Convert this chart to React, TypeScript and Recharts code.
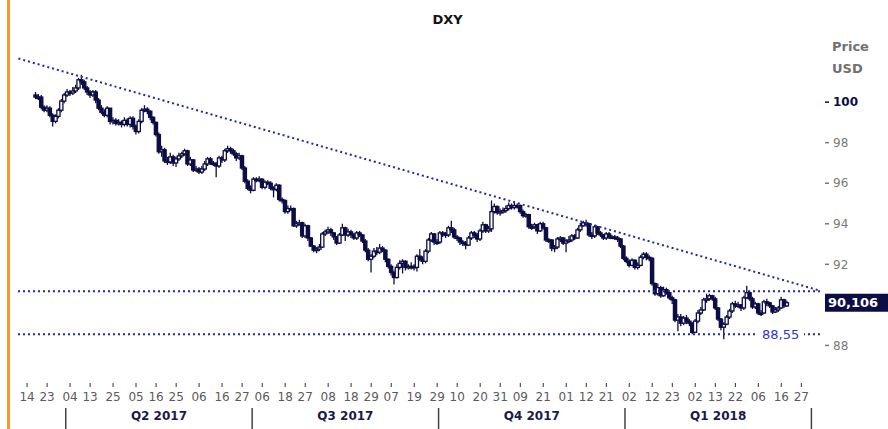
import React from 'react';
import { ComposedChart, Bar, XAxis, YAxis, ReferenceLine } from 'recharts';

// DXY daily candles, Mar 17 2017 – Mar 20 2018 (one value per weekday).
// Open of each candle = previous close (first open given separately).
const firstDate = '2017-03-17';
const firstOpen = 100.35;

const closes = [
  100.25, 100.25, 99.75, 99.6, 99.7, 99.35, 99.05, 99.3, 99.6, 100.05, 100.35,
  100.5, 100.45, 100.55, 100.7, 101.1, 101.0, 100.7, 100.5, 100.35, 100.5,
  100.1, 99.7, 99.5, 99.35, 99.7, 99.05, 99.1, 98.95, 99.0, 98.9,
  99.1, 98.9, 99.2, 98.8, 98.55, 99.05, 99.6, 99.65, 99.55, 99.25,
  99.0, 98.4, 97.55, 97.65, 97.1, 97.05, 97.3, 97.0, 97.2, 97.35,
  97.45, 97.6, 96.95, 97.15, 96.65, 96.7, 96.55, 96.7, 96.95, 97.2,
  97.0, 96.95, 96.85, 97.25, 97.15, 97.6, 97.7, 97.6, 97.45, 97.25,
  97.35, 96.75, 96.1, 95.75, 95.65, 96.2, 96.15, 96.2, 95.8, 96.05,
  96.0, 95.75, 95.7, 95.9, 95.2, 95.15, 94.6, 94.75, 94.75, 93.9,
  94.0, 94.05, 93.4, 93.9, 93.3, 92.9, 92.7, 92.75, 92.85, 93.5,
  93.6, 93.7, 93.55, 93.35, 93.05, 93.45, 93.8, 93.45, 93.6, 93.45,
  93.3, 93.55, 93.45, 93.15, 92.7, 92.25, 92.4, 92.65, 92.6, 92.8,
  92.7, 92.25, 91.9, 91.6, 91.35, 91.85, 92.05, 92.15, 91.85, 91.9,
  91.9, 91.85, 92.4, 92.25, 92.15, 92.65, 93.2, 93.5, 93.1, 93.1,
  93.55, 93.5, 93.45, 93.8, 93.7, 93.35, 93.3, 93.1, 93.05, 92.95,
  93.3, 93.55, 93.45, 93.25, 93.65, 93.95, 93.65, 93.75, 94.6, 94.85,
  94.55, 94.6, 94.65, 94.75, 94.9, 94.8, 94.9, 94.9, 94.6, 94.4,
  94.45, 93.85, 93.85, 93.95, 93.65, 94.0, 93.8, 93.2, 93.2, 92.8,
  92.85, 93.25, 93.3, 93.05, 93.15, 93.2, 93.4, 93.3, 93.7, 93.9,
  94.05, 94.0, 93.45, 93.4, 93.85, 93.55, 93.45, 93.3, 93.5, 93.35,
  93.35, 93.3, 93.25, 92.9, 92.3, 92.15, 91.95, 92.2, 91.85, 91.95,
  92.35, 92.5, 92.35, 92.3, 91.05, 90.55, 90.85, 90.45, 90.75, 90.6,
  90.35, 90.25, 89.25, 89.4, 89.1, 89.35, 89.2, 89.1, 88.65, 89.2,
  89.6, 89.75, 90.25, 90.3, 90.45, 90.3, 89.85, 89.3, 88.9, 89.05,
  89.4, 89.7, 90.05, 89.95, 90.0, 89.85, 90.35, 90.6, 90.3, 89.9,
  90.05, 89.6, 89.6, 90.15, 90.1, 89.95, 89.65, 89.75, 89.85, 90.25,
  89.95, 90.106,
];

const highs = [
  100.5, 100.4, 100.35, 99.85, 99.85, 99.8, 99.45, 99.4, 99.7, 100.15, 100.45,
  100.65, 100.6, 100.75, 100.85, 101.2, 101.35, 101.1, 100.8, 100.6, 100.6,
  100.6, 100.2, 99.85, 99.65, 99.8, 99.3, 99.25, 99.2, 99.15, 99.1,
  99.25, 99.2, 99.3, 99.3, 98.9, 99.15, 99.7, 99.85, 99.75, 99.6,
  99.3, 99.05, 98.5, 97.85, 97.75, 97.3, 97.5, 97.4, 97.3, 97.5,
  97.55, 97.7, 97.65, 97.3, 97.2, 96.85, 96.8, 96.85, 97.1, 97.3,
  97.3, 97.1, 97.05, 97.35, 97.35, 97.7, 97.85, 97.8, 97.7, 97.55,
  97.5, 97.4, 96.85, 96.2, 95.9, 96.3, 96.3, 96.35, 96.25, 96.15,
  96.15, 96.1, 95.85, 96.0, 95.95, 95.3, 95.2, 94.9, 94.9, 94.8,
  94.15, 94.2, 94.1, 94.0, 93.95, 93.35, 92.95, 92.85, 93.0, 93.6,
  93.7, 93.85, 93.8, 93.6, 93.4, 93.55, 94.0, 93.85, 93.75, 93.7,
  93.55, 93.65, 93.65, 93.5, 93.25, 92.8, 92.5, 92.8, 92.85, 93.0,
  92.9, 92.75, 92.3, 92.0, 91.7, 92.0, 92.2, 92.25, 92.2, 92.0,
  92.1, 92.0, 92.5, 92.75, 92.4, 92.75, 93.3, 93.6, 93.55, 93.25,
  93.65, 93.65, 93.6, 93.9, 94.15, 93.8, 93.45, 93.35, 93.2, 93.15,
  93.4, 93.65, 93.65, 93.55, 93.75, 94.1, 94.0, 93.9, 95.15, 95.0,
  94.9, 94.75, 94.8, 94.9, 95.05, 95.0, 95.1, 95.0, 94.95, 94.7,
  94.55, 94.5, 94.0, 94.05, 94.0, 94.1, 94.1, 93.85, 93.3, 93.25,
  92.95, 93.35, 93.4, 93.35, 93.25, 93.4, 93.5, 93.5, 93.8, 94.05,
  94.15, 94.2, 94.05, 93.6, 93.95, 93.9, 93.65, 93.5, 93.6, 93.6,
  93.45, 93.45, 93.4, 93.3, 92.95, 92.4, 92.25, 92.3, 92.25, 92.1,
  92.45, 92.6, 92.6, 92.45, 92.35, 91.1, 91.05, 90.95, 90.9, 90.85,
  90.7, 90.45, 90.3, 89.55, 89.55, 89.45, 89.5, 89.3, 89.15, 89.3,
  89.75, 89.9, 90.35, 90.55, 90.55, 90.5, 90.4, 89.9, 89.35, 89.15,
  89.5, 89.8, 90.15, 90.2, 90.15, 90.05, 90.45, 90.95, 90.7, 90.4,
  90.15, 90.1, 89.75, 90.25, 90.3, 90.15, 90.0, 89.9, 89.95, 90.4,
  90.3, 90.2,
];

const lows = [
  100.15, 100.1, 99.65, 99.5, 99.5, 99.25, 98.8, 98.95, 99.2, 99.5, 99.95,
  100.25, 100.3, 100.35, 100.45, 100.6, 100.85, 100.6, 100.35, 100.2, 100.25,
  99.95, 99.6, 99.4, 99.25, 99.25, 98.9, 98.9, 98.85, 98.85, 98.75,
  98.8, 98.8, 98.75, 98.65, 98.4, 98.45, 98.95, 99.5, 99.4, 99.1,
  98.9, 98.3, 97.45, 97.3, 97.0, 96.9, 96.95, 96.85, 96.8, 97.1,
  97.25, 97.35, 96.85, 96.85, 96.55, 96.55, 96.45, 96.45, 96.6, 96.85,
  96.9, 96.85, 96.3, 96.75, 97.0, 97.05, 97.5, 97.45, 97.35, 97.1,
  97.15, 96.65, 96.0, 95.65, 95.5, 95.6, 96.05, 96.05, 95.7, 95.7,
  95.9, 95.65, 95.3, 95.6, 95.1, 95.0, 94.5, 94.5, 94.65, 93.85,
  93.8, 93.9, 93.3, 93.3, 93.15, 92.85, 92.6, 92.55, 92.65, 92.8,
  93.4, 93.5, 93.4, 93.2, 92.95, 93.0, 93.4, 93.15, 93.35, 93.3,
  93.2, 93.2, 93.35, 93.05, 92.6, 92.15, 91.6, 92.3, 92.45, 92.5,
  92.6, 92.1, 91.8, 91.45, 91.0, 91.3, 91.75, 91.55, 91.7, 91.75,
  91.75, 91.7, 91.65, 92.15, 92.0, 92.05, 92.55, 93.1, 92.95, 92.95,
  93.0, 93.35, 93.3, 93.35, 93.55, 93.25, 93.15, 92.95, 92.9, 92.75,
  92.9, 93.2, 93.3, 93.1, 93.15, 93.55, 93.55, 93.55, 93.6, 94.5,
  94.45, 94.4, 94.5, 94.55, 94.65, 94.7, 94.7, 94.75, 94.5, 94.3,
  94.3, 93.75, 93.7, 93.75, 93.5, 93.6, 93.7, 93.1, 93.05, 92.65,
  92.6, 92.75, 93.1, 92.95, 92.6, 93.05, 93.1, 93.2, 93.25, 93.6,
  93.85, 93.85, 93.35, 93.25, 93.3, 93.45, 93.35, 93.2, 93.2, 93.25,
  93.25, 93.2, 93.1, 92.8, 92.2, 92.05, 91.85, 91.9, 91.75, 91.75,
  91.9, 92.25, 92.2, 92.15, 90.95, 90.45, 90.45, 90.35, 90.4, 90.5,
  90.25, 90.05, 89.15, 88.7, 88.95, 89.0, 89.05, 88.95, 88.55, 88.6,
  89.1, 89.5, 89.7, 90.1, 90.2, 90.2, 89.75, 89.2, 88.75, 88.3,
  89.0, 89.3, 89.6, 89.85, 89.85, 89.7, 89.75, 90.3, 90.2, 89.8,
  89.8, 89.5, 89.45, 89.55, 89.95, 89.85, 89.55, 89.6, 89.65, 89.8,
  89.85, 89.9,
];

// axis
const axisStart = '2017-03-09';
const axisEnd = '2018-04-04';
const tickDates = [
  '2017-03-14', '2017-03-23', '2017-04-04', '2017-04-13', '2017-04-25', '2017-05-05',
  '2017-05-16', '2017-05-25', '2017-06-06', '2017-06-16', '2017-06-27', '2017-07-06',
  '2017-07-18', '2017-07-27', '2017-08-08', '2017-08-18', '2017-08-29', '2017-09-07',
  '2017-09-19', '2017-09-29', '2017-10-10', '2017-10-20', '2017-10-31', '2017-11-09',
  '2017-11-21', '2017-12-01', '2017-12-12', '2017-12-21', '2018-01-02', '2018-01-12',
  '2018-01-23', '2018-02-02', '2018-02-13', '2018-02-22', '2018-03-06', '2018-03-16',
  '2018-03-27',
];
const quarterEnds = ['2017-03-31', '2017-06-30', '2017-09-29', '2017-12-29', '2018-03-30'];
const quarterLabels = ['Q2 2017', 'Q3 2017', 'Q4 2017', 'Q1 2018'];
const yTicks = [88, 92, 94, 96, 98, 100];

// levels
const lastValue = 90.106;
const supportLevel = 88.55;
const resistanceLevel = 90.67;
const trendFrom = { date: '2017-03-09', value: 102.15 };
const trendTo = { date: '2018-04-04', value: 90.72 };

const NAVY = '#0d0d45';
const BLUE = '#2626a8';
const W = 888;
const H = 429;
const Y_AXIS_W = 68;
const M = { top: 21, right: 0, bottom: 0, left: 17 };
const X_AXIS_H = 43;
const FONT = '"DejaVu Sans", Verdana, sans-serif';

const DAY = 86400000;
const parse = (s: string) => {
  const [y, m, d] = s.split('-').map(Number);
  return Date.UTC(y, m - 1, d);
};
const ORIGIN = parse('2017-03-14');
const isWeekday = (t: number) => {
  const w = new Date(t).getUTCDay();
  return w !== 0 && w !== 6;
};
// trading-day index counted from Mar 14 2017
const dayIndex = (s: string) => {
  const t = parse(s);
  let n = 0;
  if (t >= ORIGIN) {
    for (let d = ORIGIN + DAY; d <= t; d += DAY) if (isWeekday(d)) n++;
    return n;
  }
  for (let d = ORIGIN; d > t; d -= DAY) if (isWeekday(d)) n--;
  return n;
};

const i0 = dayIndex(firstDate);
const iStart = dayIndex(axisStart);
const iEnd = dayIndex(axisEnd);

const rows: any[] = [];
for (let i = iStart; i <= iEnd; i++) {
  const k = i - i0;
  if (k >= 0 && k < closes.length) {
    const o = k === 0 ? firstOpen : closes[k - 1];
    const c = closes[k];
    const h = Math.max(highs[k], o, c);
    const l = Math.min(lows[k], o, c);
    rows.push({ i, o, h, l, c, range: [l, h] });
  } else {
    rows.push({ i });
  }
}

const band = (W - M.left - Y_AXIS_W) / rows.length;
const tickLabels = new Map(tickDates.map((s) => [dayIndex(s), s.slice(8)]));
const qEnds = quarterEnds.map(dayIndex);
const qMids = new Map<number, string>();
quarterLabels.forEach((lbl, k) => {
  qMids.set(Math.round((qEnds[k] + qEnds[k + 1]) / 2 + 0.5), lbl);
});

const Candle = (props: any) => {
  const { x, y, width, height, payload } = props;
  if (!payload || payload.h == null) return null;
  const top = Math.min(y, y + height);
  const hh = Math.abs(height);
  const ratio = hh / (payload.h - payload.l || 1);
  const py = (v: number) => top + (payload.h - v) * ratio;
  const cx = x + width / 2;
  const up = payload.c > payload.o;
  const bTop = py(Math.max(payload.o, payload.c));
  const bBot = py(Math.min(payload.o, payload.c));
  return (
    <g>
      <line x1={cx} x2={cx} y1={top} y2={top + hh} stroke={NAVY} strokeWidth={1.3} />
      <rect
        x={cx - 1.6}
        y={bTop}
        width={3.2}
        height={Math.max(bBot - bTop, 1.5)}
        fill={up ? '#ffffff' : NAVY}
        stroke={NAVY}
        strokeWidth={1.3}
      />
    </g>
  );
};

const XTick = (props: any) => {
  const { x, y, payload } = props;
  const i = payload.value;
  const lbl = tickLabels.get(i);
  const q = qMids.get(i);
  return (
    <g>
      {lbl && <line x1={x} x2={x} y1={y - 3} y2={y + 1} stroke="#333" strokeWidth={1} />}
      {lbl && (
        <text x={x} y={y + 15} textAnchor="middle" fontSize={12} fontFamily={FONT} fill="#5a5a5a">
          {lbl}
        </text>
      )}
      {qEnds.includes(i) && (
        <line x1={x + band / 2} x2={x + band / 2} y1={y + 22} y2={y + 43} stroke="#444" strokeWidth={1.5} />
      )}
      {q && (
        <text x={x} y={y + 34} textAnchor="middle" fontSize={12} fontWeight="bold" fontFamily={FONT} fill="#1a1a4a">
          {q}
        </text>
      )}
    </g>
  );
};

const YTick = (props: any) => {
  const { x, y, payload } = props;
  const main = payload.value === 100;
  return (
    <g>
      <line x1={x + 5} x2={x + 9} y1={y} y2={y} stroke={main ? NAVY : '#777'} strokeWidth={1.5} />
      <text
        x={x + 13}
        y={y}
        dy="0.35em"
        fontSize={12}
        fontFamily={FONT}
        fontWeight={main ? 'bold' : 'normal'}
        fill={main ? NAVY : '#7a7a7a'}
      >
        {payload.value}
      </text>
    </g>
  );
};

const LastLabel = (props: any) => {
  const { viewBox } = props;
  const x = viewBox.x + viewBox.width + 5;
  const y = viewBox.y;
  return (
    <g>
      <rect x={x} y={y - 9} width={W - x} height={18} fill={NAVY} />
      <text x={x + 3} y={y} dy="0.36em" fontSize={13} fontWeight="bold" fontFamily={FONT} fill="#fff">
        {lastValue.toFixed(3).replace('.', ',')}
      </text>
    </g>
  );
};

const SupportLabel = (props: any) => {
  const { viewBox } = props;
  const x = viewBox.x + viewBox.width - 62;
  const y = viewBox.y;
  return (
    <g>
      <rect x={x} y={y - 9} width={46} height={18} fill="#fff" />
      <text x={x + 4} y={y} dy="0.36em" fontSize={13} fontFamily={FONT} fill="#3333c8">
        {supportLevel.toFixed(2).replace('.', ',')}
      </text>
    </g>
  );
};

export default function App() {
  return (
    <div style={{ position: 'absolute', left: 0, top: 0, width: W, height: H, background: '#fff', fontFamily: FONT }}>
      <div style={{ position: 'absolute', left: 7, top: 0, width: 3, height: H, background: '#f39a2b' }} />
      <div style={{ position: 'absolute', left: 0, top: 12, width: 895, textAlign: 'center', fontSize: 13, fontWeight: 'bold', color: '#111' }}>
        DXY
      </div>
      <div style={{ position: 'absolute', left: 832, top: 36, fontSize: 13, fontWeight: 'bold', color: '#707070', lineHeight: '22px' }}>
        Price
        <br />
        USD
      </div>
      <ComposedChart width={W} height={H} data={rows} margin={M}>
        <XAxis
          dataKey="i"
          type="category"
          interval={0}
          axisLine={false}
          tickLine={false}
          tickSize={0}
          tickMargin={0}
          height={X_AXIS_H}
          tick={<XTick />}
        />
        <YAxis
          orientation="right"
          domain={[86, 104]}
          ticks={yTicks}
          axisLine={false}
          tickLine={false}
          tickSize={0}
          tickMargin={0}
          width={Y_AXIS_W}
          tick={<YTick />}
          allowDataOverflow
        />
        <ReferenceLine
          segment={[
            { x: dayIndex(trendFrom.date), y: trendFrom.value },
            { x: dayIndex(trendTo.date), y: trendTo.value },
          ]}
          stroke={BLUE}
          strokeWidth={2}
          strokeDasharray="2 3"
        />
        <ReferenceLine y={resistanceLevel} stroke={BLUE} strokeWidth={2} strokeDasharray="2 3" />
        <ReferenceLine y={supportLevel} stroke={BLUE} strokeWidth={2} strokeDasharray="2 3" label={<SupportLabel />} />
        <ReferenceLine y={lastValue} stroke="none" label={<LastLabel />} />
        <Bar dataKey="range" barSize={3} shape={<Candle />} isAnimationActive={false} />
      </ComposedChart>
    </div>
  );
}
